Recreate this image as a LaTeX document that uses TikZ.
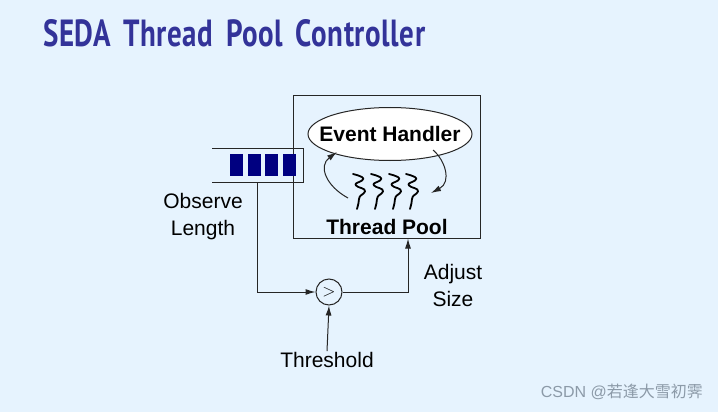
\documentclass[tikz,border=0pt]{standalone}
\usepackage{fontspec}
\setmainfont{Liberation Sans}
\newfontfamily\titlefont{PT Sans}[LetterSpace=2,WordSpace=1.6]
\newfontfamily\cjkfont{Noto Sans CJK SC}
\usetikzlibrary{arrows.meta,shapes.geometric}
\definecolor{bgblue}{HTML}{E6F3FE}
\definecolor{titleblue}{HTML}{333399}
\definecolor{qnavy}{HTML}{000080}
\definecolor{wmgray}{HTML}{8C9AA8}
\tikzset{
  lbl/.style={font=\fontsize{21}{27}\selectfont, align=center, inner sep=0pt},
  blbl/.style={font=\fontsize{21}{27}\selectfont\bfseries, inner sep=0pt},
  wire/.style={draw=black!85, line width=1pt},
  arr/.style={wire, -{Latex[length=10pt,width=6pt]}},
  qblock/.style={fill=qnavy, draw=none},
  squig/.style={draw=black, line width=1.8pt, line cap=round, line join=round},
}
\begin{document}
\begin{tikzpicture}[x=1pt,y=-1pt]
\fill[bgblue] (0,0) rectangle (718,412);
\useasboundingbox (0,0) rectangle (718,412);

% title
\node[anchor=south west, inner sep=0pt, text=titleblue] (title) at (43,47)
  {\resizebox{382pt}{27pt}{\titlefont\bfseries SEDA Thread Pool Controller}};

% big box
\node[wire, draw, fill=bgblue, minimum width=187pt, minimum height=142pt, inner sep=0pt] (box) at (386.5,167) {};

% queue
\coordinate (qtl) at (212,148);
\coordinate (qtr) at (303,148);
\coordinate (qbr) at (303,182);
\coordinate (qbl) at (212,182);
\draw[wire] (qtl) -- (qtr) -- (qbr) -- (qbl);
\foreach \bx in {230,247.7,265.3,283}{
  \fill[qblock] (\bx,154) rectangle ++(13,22);
}

% event handler
\node[draw, wire, fill=white, ellipse, minimum width=164pt, minimum height=53pt, inner sep=0pt] (eh) at (390,134) {};
\node[blbl] (ehtext) at (eh.center) {Event Handler};

% thread pool label
\node[blbl] (tp) at (387,227) {Thread Pool};

% squiggles
\foreach \sx in {353,371,389,406}{
  \draw[squig] (\sx,174)
     .. controls (\sx+8,176) and (\sx+13,178) .. (\sx+9,180.5)
     .. controls (\sx+5,183) and (\sx+1,183) .. (\sx+3,185.5)
     .. controls (\sx+5,188) and (\sx+13,188) .. (\sx+12,191.5)
     .. controls (\sx+11,194.5) and (\sx+6,195) .. (\sx+6,199)
     .. controls (\sx+6,202) and (\sx+5,205) .. (\sx+4,209);
}

% curved arrows
\coordinate (la) at (348,198);
\coordinate (lb) at (337,152);
\draw[arr] (la) .. controls (326,186) and (318,166) .. (lb);
\coordinate (ra) at (433,150);
\coordinate (rb) at (431,193);
\draw[arr] (ra) .. controls (445,160) and (452,182) .. (rb);

% comparator
\node[draw, wire, circle, minimum size=26pt, inner sep=0pt, font=\fontsize{19}{19}\selectfont] (cmp) at (329,292) {$>$};
\coordinate (qdown) at (257,182);
\draw[arr] (qdown) |- (cmp.west);
\coordinate (adj) at (408,292);
\draw[arr] (cmp.east) -- (adj) -- (adj |- box.south);

% labels
\node[lbl] (obs) at (203,217) {Observe\\Length};
\node[lbl] (adjs) at (453,285) {Adjust\\Size};
\node[lbl, anchor=center] (th) at (327,360) {Threshold};
\draw[arr] (th.north) ++(0,-1) coordinate (thn) (thn) -- (cmp.south);

% watermark
\node[inner sep=0pt, text=wmgray, font=\fontsize{16}{16}\selectfont, anchor=east] (wm) at (703,392) {CSDN @{\cjkfont 若逢大雪初霁}};
\end{tikzpicture}
\end{document}
